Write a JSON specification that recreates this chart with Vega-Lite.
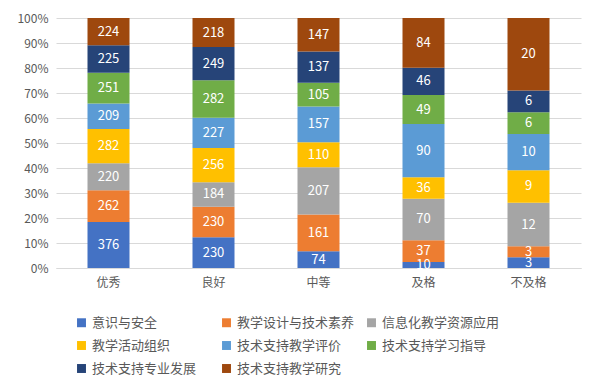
{
  "$schema": "https://vega.github.io/schema/vega-lite/v6.json",
  "width": 525,
  "height": 250,
  "autosize": "none",
  "padding": {"left": 56, "top": 18, "right": 19, "bottom": 121},
  "background": "white",
  "config": {
    "view": {"stroke": null},
    "font": "Noto Sans CJK SC",
    "axis": {"labelFont": "Noto Sans CJK SC", "labelColor": "#595959", "labelFontSize": 12}
  },
  "data": {
    "values": [
      {"cat": "优秀", "s": "意识与安全", "i": 1, "v": 376},
      {"cat": "优秀", "s": "教学设计与技术素养", "i": 2, "v": 262},
      {"cat": "优秀", "s": "信息化教学资源应用", "i": 3, "v": 220},
      {"cat": "优秀", "s": "教学活动组织", "i": 4, "v": 282},
      {"cat": "优秀", "s": "技术支持教学评价", "i": 5, "v": 209},
      {"cat": "优秀", "s": "技术支持学习指导", "i": 6, "v": 251},
      {"cat": "优秀", "s": "技术支持专业发展", "i": 7, "v": 225},
      {"cat": "优秀", "s": "技术支持教学研究", "i": 8, "v": 224},
      {"cat": "良好", "s": "意识与安全", "i": 1, "v": 230},
      {"cat": "良好", "s": "教学设计与技术素养", "i": 2, "v": 230},
      {"cat": "良好", "s": "信息化教学资源应用", "i": 3, "v": 184},
      {"cat": "良好", "s": "教学活动组织", "i": 4, "v": 256},
      {"cat": "良好", "s": "技术支持教学评价", "i": 5, "v": 227},
      {"cat": "良好", "s": "技术支持学习指导", "i": 6, "v": 282},
      {"cat": "良好", "s": "技术支持专业发展", "i": 7, "v": 249},
      {"cat": "良好", "s": "技术支持教学研究", "i": 8, "v": 218},
      {"cat": "中等", "s": "意识与安全", "i": 1, "v": 74},
      {"cat": "中等", "s": "教学设计与技术素养", "i": 2, "v": 161},
      {"cat": "中等", "s": "信息化教学资源应用", "i": 3, "v": 207},
      {"cat": "中等", "s": "教学活动组织", "i": 4, "v": 110},
      {"cat": "中等", "s": "技术支持教学评价", "i": 5, "v": 157},
      {"cat": "中等", "s": "技术支持学习指导", "i": 6, "v": 105},
      {"cat": "中等", "s": "技术支持专业发展", "i": 7, "v": 137},
      {"cat": "中等", "s": "技术支持教学研究", "i": 8, "v": 147},
      {"cat": "及格", "s": "意识与安全", "i": 1, "v": 10},
      {"cat": "及格", "s": "教学设计与技术素养", "i": 2, "v": 37},
      {"cat": "及格", "s": "信息化教学资源应用", "i": 3, "v": 70},
      {"cat": "及格", "s": "教学活动组织", "i": 4, "v": 36},
      {"cat": "及格", "s": "技术支持教学评价", "i": 5, "v": 90},
      {"cat": "及格", "s": "技术支持学习指导", "i": 6, "v": 49},
      {"cat": "及格", "s": "技术支持专业发展", "i": 7, "v": 46},
      {"cat": "及格", "s": "技术支持教学研究", "i": 8, "v": 84},
      {"cat": "不及格", "s": "意识与安全", "i": 1, "v": 3},
      {"cat": "不及格", "s": "教学设计与技术素养", "i": 2, "v": 3},
      {"cat": "不及格", "s": "信息化教学资源应用", "i": 3, "v": 12},
      {"cat": "不及格", "s": "教学活动组织", "i": 4, "v": 9},
      {"cat": "不及格", "s": "技术支持教学评价", "i": 5, "v": 10},
      {"cat": "不及格", "s": "技术支持学习指导", "i": 6, "v": 6},
      {"cat": "不及格", "s": "技术支持专业发展", "i": 7, "v": 6},
      {"cat": "不及格", "s": "技术支持教学研究", "i": 8, "v": 20}
    ]
  },
  "transform": [
    {"stack": "v", "groupby": ["cat"], "sort": [{"field": "i", "order": "ascending"}], "as": ["y0", "y1"], "offset": "normalize"},
    {"calculate": "(datum.y0 + datum.y1) / 2", "as": "ym"}
  ],
  "encoding": {
    "x": {
      "field": "cat", "type": "nominal",
      "sort": ["优秀", "良好", "中等", "及格", "不及格"],
      "scale": {"paddingInner": 0.6, "paddingOuter": 0.3},
      "axis": {"title": null, "labelAngle": 0, "ticks": false, "domainColor": "#D9D9D9", "labelPadding": 9, "labelFontSize": 12}
    }
  },
  "layer": [
    {
      "mark": {"type": "bar"},
      "encoding": {
        "y": {
          "field": "y0", "type": "quantitative",
          "scale": {"domain": [0, 1]},
          "axis": {"title": null, "format": ".0%", "values": [0, 0.1, 0.2, 0.3, 0.4, 0.5, 0.6, 0.7, 0.8, 0.9, 1], "labelOverlap": false, "domain": false, "ticks": false, "gridColor": "#D9D9D9", "labelPadding": 8}
        },
        "y2": {"field": "y1"},
        "color": {
          "field": "s", "type": "nominal",
          "scale": {
            "domain": ["意识与安全", "教学设计与技术素养", "信息化教学资源应用", "教学活动组织", "技术支持教学评价", "技术支持学习指导", "技术支持专业发展", "技术支持教学研究"],
            "range": ["#4472C4", "#ED7D31", "#A5A5A5", "#FFC000", "#5B9BD5", "#70AD47", "#264478", "#9E480E"]
          },
          "legend": {
            "title": null,
            "orient": "none",
            "legendX": 19,
            "legendY": 298,
            "direction": "horizontal",
            "columns": 3,
            "gridAlign": "all",
            "columnPadding": 10,
            "rowPadding": 9,
            "symbolType": "square",
            "symbolSize": 80,
            "symbolStrokeWidth": 0,
            "labelFont": "Noto Sans CJK SC",
            "labelFontSize": 13,
            "labelColor": "#595959",
            "labelLimit": 200
          }
        }
      }
    },
    {
      "mark": {"type": "text", "color": "white", "fontSize": 13, "baseline": "middle"},
      "encoding": {
        "y": {"field": "ym", "type": "quantitative", "axis": {"title": null, "format": ".0%", "values": [0, 0.1, 0.2, 0.3, 0.4, 0.5, 0.6, 0.7, 0.8, 0.9, 1], "labelOverlap": false, "domain": false, "ticks": false, "gridColor": "#D9D9D9", "labelPadding": 8}},
        "text": {"field": "v", "type": "quantitative"}
      }
    }
  ]
}
